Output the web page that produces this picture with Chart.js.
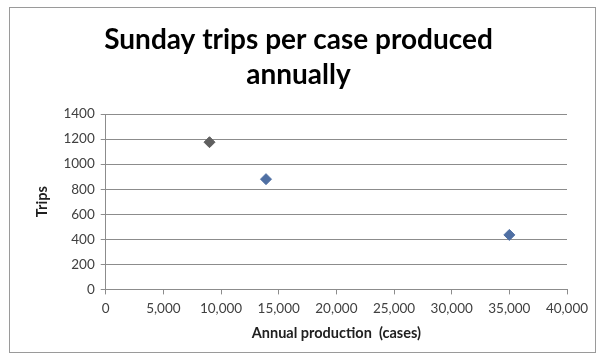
<!DOCTYPE html>
<html>
<head>
<meta charset="utf-8">
<script src="https://cdn.jsdelivr.net/npm/chart.js@4/dist/chart.umd.min.js"></script>
<style>
  html, body { margin: 0; padding: 0; background: #fff; }
  #box {
    position: absolute; left: 9px; top: 7px; width: 585px; height: 344px;
    border: 1px solid #9a9a9a; background: #fff;
  }
  canvas { display: block; }
</style>
</head>
<body>
<div id="box"><canvas id="chart"></canvas></div>
<script>
// data
const production = [9000, 13900, 35000];
const trips = [1175, 880, 435];
const pointColors = ["#5f5f5f", "#4f6fa3", "#4f6fa3"];
const titleLines = ["Sunday trips per case produced", "annually"];

const grey = "#8c8c8c";
const ctx = document.getElementById("chart").getContext("2d");

const chart = new Chart(ctx, {
  type: "scatter",
  data: {
    datasets: [{
      data: production.map((x, i) => ({ x: x, y: trips[i] })),
      pointStyle: "rectRot",
      pointRadius: 5.5,
      pointBackgroundColor: pointColors,
      pointBorderColor: pointColors,
      pointBorderWidth: 1
    }]
  },
  options: {
    responsive: true,
    maintainAspectRatio: false,
    animation: false,
    layout: { padding: { left: 20, right: 28, top: 4, bottom: 6 } },
    plugins: {
      legend: { display: false },
      tooltip: { enabled: false },
      title: {
        display: true,
        text: titleLines,
        color: "#000",
        font: { family: "Lato", size: 28, weight: "bold", lineHeight: 1.25 },
        padding: { top: 10, bottom: 22 }
      }
    },
    scales: {
      x: {
        type: "linear",
        min: 0, max: 40000,
        ticks: {
          stepSize: 5000,
          color: "#404040",
          font: { family: "Lato", size: 13.5 },
          padding: 6,
          maxRotation: 0,
          callback: v => v.toLocaleString("en-US")
        },
        grid: { drawOnChartArea: false, color: grey, tickLength: 5 },
        border: { color: grey },
        title: {
          display: true,
          text: "Annual production  (cases)",
          color: "#202020",
          font: { family: "Lato", size: 14.5, weight: "bold" },
          padding: { top: 2 }
        }
      },
      y: {
        min: 0, max: 1400,
        ticks: {
          stepSize: 200,
          color: "#404040",
          font: { family: "Lato", size: 13.5 },
          padding: 6,
          callback: v => String(v)
        },
        grid: { color: grey, tickLength: 5 },
        border: { color: grey },
        title: {
          display: true,
          text: "Trips",
          color: "#202020",
          font: { family: "Lato", size: 14.5, weight: "bold" },
          padding: { bottom: 6 }
        }
      }
    }
  }
});
</script>
</body>
</html>
